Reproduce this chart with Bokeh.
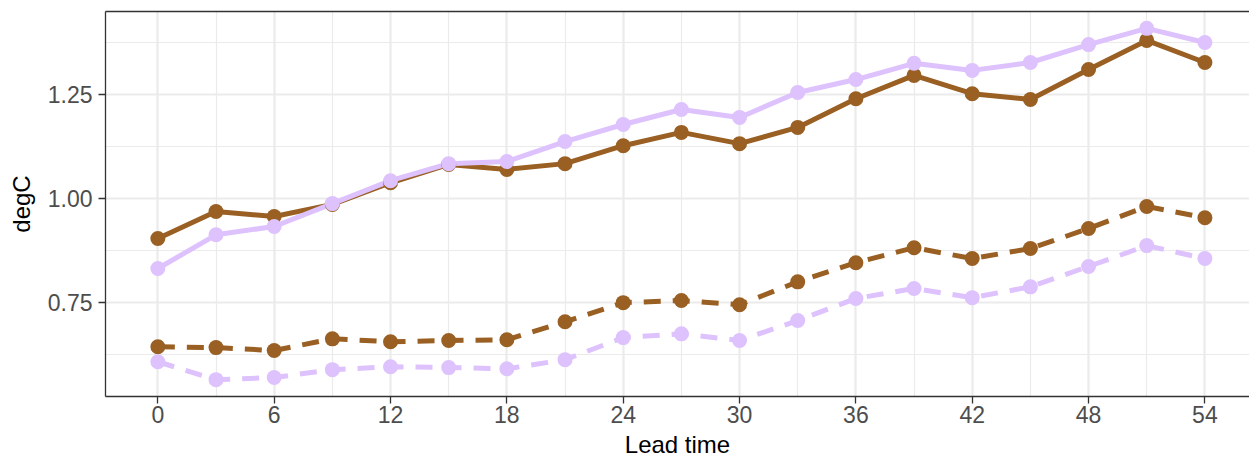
from bokeh.plotting import figure
from bokeh.models import FixedTicker, LinearAxis, Range1d, ColumnDataSource, CustomJSTickFormatter
from bokeh.embed import file_html
from bokeh.resources import INLINE

# Lead time (months) and temperature error in degC for two systems
lead_time = [0, 3, 6, 9, 12, 15, 18, 21, 24, 27, 30, 33, 36, 39, 42, 45, 48, 51, 54]

brown_solid = [0.904, 0.969, 0.957, 0.986, 1.038, 1.082, 1.070, 1.084, 1.127, 1.159,
               1.132, 1.171, 1.240, 1.296, 1.252, 1.238, 1.310, 1.380, 1.327]
lilac_solid = [0.832, 0.913, 0.933, 0.988, 1.043, 1.084, 1.089, 1.137, 1.178, 1.214,
               1.195, 1.255, 1.286, 1.325, 1.308, 1.327, 1.370, 1.409, 1.375]
brown_dashed = [0.644, 0.642, 0.635, 0.663, 0.656, 0.659, 0.661, 0.704, 0.750, 0.755,
                0.745, 0.800, 0.846, 0.882, 0.856, 0.880, 0.928, 0.981, 0.954]
lilac_dashed = [0.608, 0.565, 0.570, 0.589, 0.596, 0.594, 0.591, 0.613, 0.666, 0.675,
                0.659, 0.707, 0.760, 0.784, 0.762, 0.788, 0.837, 0.887, 0.856]

x_ticks = [0, 6, 12, 18, 24, 30, 36, 42, 48, 54]
x_minor = [3, 9, 15, 21, 27, 33, 39, 45, 51]
y_ticks = [0.75, 1.00, 1.25]
y_minor = [0.625, 0.875, 1.125, 1.375]

BROWN = "#9A5F23"
LILAC = "#DDC2FD"
FONT = "Liberation Sans"

p = figure(width=1249, height=462, output_backend="svg", toolbar_location=None,
           x_range=Range1d(-2.7, 56.3), y_range=Range1d(0.5245, 1.4495),
           min_border_left=105, min_border_right=0, min_border_top=11, min_border_bottom=66,
           x_axis_label="Lead time", y_axis_label="degC")
p.outline_line_color = None
p.background_fill_color = "white"
p.border_fill_color = "white"

# grid
for g, major, minor in ((p.xgrid[0], x_ticks, x_minor), (p.ygrid[0], y_ticks, y_minor)):
    g.ticker = FixedTicker(ticks=major, minor_ticks=minor)
    g.grid_line_color = "#EBEBEB"
    g.grid_line_width = 2.2
    g.minor_grid_line_color = "#EBEBEB"
    g.minor_grid_line_width = 1.2

# axes
xa = p.xaxis[0]
ya = p.yaxis[0]
xa.ticker = FixedTicker(ticks=x_ticks, minor_ticks=x_minor)
ya.ticker = FixedTicker(ticks=y_ticks, minor_ticks=y_minor)
ya.formatter = CustomJSTickFormatter(code="return tick.toFixed(2);")
for ax in (xa, ya):
    ax.axis_line_color = "#333333"
    ax.axis_line_width = 1.3
    ax.major_tick_line_color = "#333333"
    ax.major_tick_line_width = 1.3
    ax.major_tick_out = 7
    ax.major_tick_in = 0
    ax.minor_tick_out = 0
    ax.minor_tick_in = 0
    ax.major_label_text_font = FONT
    ax.major_label_text_font_size = "23px"
    ax.major_label_text_color = "#4D4D4D"
    ax.axis_label_text_font = FONT
    ax.axis_label_text_font_size = "24px"
    ax.axis_label_text_font_style = "normal"
    ax.axis_label_text_color = "black"
xa.major_label_standoff = 2
xa.axis_label_standoff = 5
ya.major_label_standoff = 6
ya.axis_label_standoff = 10

# top border of the panel
top = LinearAxis(ticker=FixedTicker(ticks=[]), axis_line_color="#333333", axis_line_width=1.3,
                 major_tick_out=0, major_tick_in=0, minor_tick_out=0, minor_tick_in=0,
                 major_label_standoff=0)
p.add_layout(top, "above")

src = ColumnDataSource(dict(x=lead_time, bs=brown_solid, ls=lilac_solid,
                            bd=brown_dashed, ld=lilac_dashed))

LW = 5
DASH = "17 12"
# lines first, then points on top
p.line("x", "bs", source=src, line_color=BROWN, line_width=LW)
p.line("x", "bd", source=src, line_color=BROWN, line_width=LW, line_dash=DASH)
p.line("x", "ls", source=src, line_color=LILAC, line_width=LW)
p.line("x", "ld", source=src, line_color=LILAC, line_width=LW, line_dash=DASH)
p.scatter("x", "bs", source=src, size=15, fill_color=BROWN, line_color=None)
p.scatter("x", "bd", source=src, size=15, fill_color=BROWN, line_color=None)
p.scatter("x", "ls", source=src, size=15, fill_color=LILAC, line_color=None)
p.scatter("x", "ld", source=src, size=15, fill_color=LILAC, line_color=None)

open("out.html", "w").write(file_html(p, INLINE))
